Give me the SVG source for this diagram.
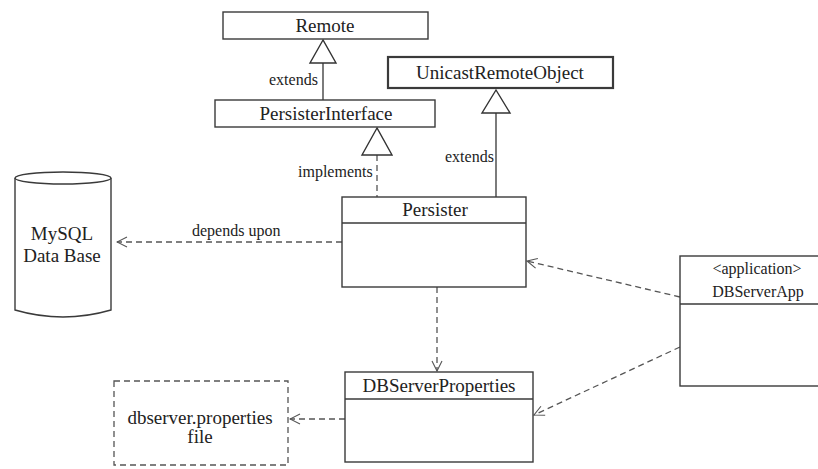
<svg xmlns="http://www.w3.org/2000/svg" width="818" height="469" viewBox="0 0 818 469" font-family="'Liberation Serif', 'DejaVu Serif', 'Times New Roman', serif">
  <defs>
    <style>
      .box { fill: #ffffff; stroke: #3a3a3a; stroke-width: 1.4; }
      .thick { stroke-width: 2.2; }
      .sep { stroke: #3a3a3a; stroke-width: 1.4; }
      .dashbox { fill: none; stroke: #555; stroke-width: 1.3; stroke-dasharray: 6 4; }
      .solid { fill: none; stroke: #444; stroke-width: 1.4; }
      .dash { fill: none; stroke: #555; stroke-width: 1.3; stroke-dasharray: 6 4; }
      .tri { fill: #ffffff; stroke: #333; stroke-width: 1.4; }
      text { font-family: "Liberation Serif", "DejaVu Serif", serif; }
      .name { font-size: 19px; fill: #222; text-anchor: middle; }
      .small { font-size: 16px; fill: #222; }
      .mid { text-anchor: middle; }
    </style>
    <marker id="open" viewBox="0 0 12 12" refX="11" refY="6" markerWidth="12" markerHeight="12" markerUnits="userSpaceOnUse" orient="auto">
      <path d="M1,1 L11,6 L1,11" fill="none" stroke="#555" stroke-width="1.1"/>
    </marker>
  </defs>

  <!-- connectors -->
  <g id="connectors">
    <!-- PersisterInterface extends Remote -->
    <line class="solid" x1="323" y1="63" x2="323" y2="100"/>
    <polygon class="tri" points="323,40 310,63 336,63"/>
    <text class="small" x="269" y="85">extends</text>

    <!-- Persister extends UnicastRemoteObject -->
    <line class="solid" x1="496" y1="113" x2="496" y2="197"/>
    <polygon class="tri" points="496,90 482,113 510,113"/>
    <text class="small" x="445" y="162">extends</text>

    <!-- Persister implements PersisterInterface -->
    <line class="dash" x1="377" y1="155" x2="377" y2="197"/>
    <polygon class="tri" points="377,128 362,155 392,155"/>
    <text class="small" x="298" y="177">implements</text>

    <!-- Persister depends upon MySQL -->
    <line class="dash" x1="342" y1="242" x2="117" y2="242" marker-end="url(#open)"/>
    <text class="small" x="192" y="236">depends upon</text>

    <!-- Persister uses DBServerProperties -->
    <line class="dash" x1="437" y1="287" x2="437" y2="371" marker-end="url(#open)"/>

    <!-- DBServerProperties reads the properties file -->
    <line class="dash" x1="345" y1="419" x2="290" y2="419" marker-end="url(#open)"/>

    <!-- DBServerApp uses Persister and DBServerProperties -->
    <line class="dash" x1="680" y1="297" x2="527" y2="261" marker-end="url(#open)"/>
    <line class="dash" x1="680" y1="347" x2="534" y2="415" marker-end="url(#open)"/>
  </g>

  <!-- Remote -->
  <g id="remote">
    <rect class="box" x="223" y="12" width="205" height="27"/>
    <text class="name" x="325" y="32">Remote</text>
  </g>

  <!-- UnicastRemoteObject -->
  <g id="unicast-remote-object">
    <rect class="box thick" x="388" y="57" width="225" height="31"/>
    <text class="name" x="500" y="79">UnicastRemoteObject</text>
  </g>

  <!-- PersisterInterface -->
  <g id="persister-interface">
    <rect class="box" x="215" y="100" width="220" height="27"/>
    <text class="name" x="326" y="120">PersisterInterface</text>
  </g>

  <!-- Persister -->
  <g id="persister">
    <rect class="box" x="342" y="197" width="184" height="90"/>
    <line class="sep" x1="342" y1="223" x2="526" y2="223"/>
    <text class="name" x="435" y="216">Persister</text>
  </g>

  <!-- MySQL database -->
  <g id="mysql">
    <path class="box" d="M15,178 L15,310 Q63,324 111,310 L111,178"/>
    <ellipse class="box" cx="63" cy="178" rx="48" ry="6"/>
    <text class="name" x="62" y="240">MySQL</text>
    <text class="name" x="62" y="262">Data Base</text>
  </g>

  <!-- DBServerProperties -->
  <g id="db-server-properties">
    <rect class="box" x="345" y="372" width="188" height="90"/>
    <line class="sep" x1="345" y1="399" x2="533" y2="399"/>
    <text class="name" x="439" y="392">DBServerProperties</text>
  </g>

  <!-- dbserver.properties file -->
  <g id="properties-file">
    <rect class="dashbox" x="114" y="381" width="174" height="84"/>
    <text class="name" x="200" y="424">dbserver.properties</text>
    <text class="name" x="200" y="443">file</text>
  </g>

  <!-- DBServerApp -->
  <g id="db-server-app">
    <rect class="box" x="680" y="256" width="156" height="130"/>
    <line class="sep" x1="680" y1="304" x2="836" y2="304"/>
    <text class="small mid" x="757" y="274">&lt;application&gt;</text>
    <text class="small mid" x="758" y="297">DBServerApp</text>
  </g>
</svg>
